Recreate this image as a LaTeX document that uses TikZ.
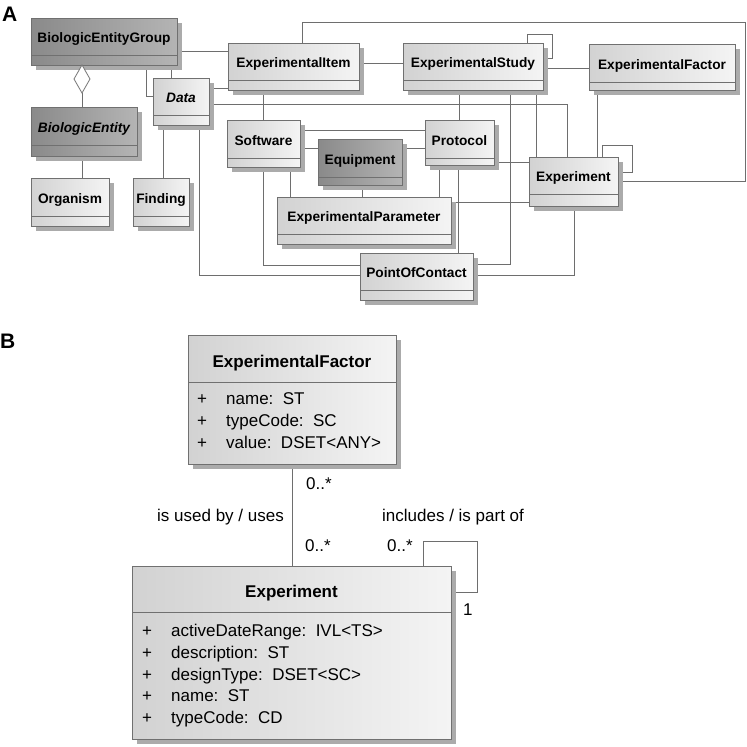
\documentclass[tikz,border=0pt]{standalone}
\usepackage{fontspec}
\setmainfont{Liberation Sans}
\usetikzlibrary{shapes.geometric,shadows}
\pgfdeclarelayer{background}
\pgfsetlayers{background,main}
\definecolor{bord}{HTML}{707070}
\definecolor{linec}{HTML}{6E6E6E}
\definecolor{shad}{HTML}{ABABAB}
\definecolor{lightL}{HTML}{D2D2D2}
\definecolor{lightR}{HTML}{F4F4F4}
\definecolor{darkL}{HTML}{8A8A8A}
\definecolor{darkR}{HTML}{B4B4B4}
\tikzset{
 conn/.style={draw=linec, line width=0.8pt},
 boxbase/.style={draw=bord, line width=0.8pt, inner sep=0pt, outer sep=0pt,
   general shadow={fill=shad, shadow xshift=5pt, shadow yshift=-5pt}},
 lightbox/.style={boxbase, left color=lightL, right color=lightR},
 darkbox/.style={boxbase, left color=darkL, right color=darkR},
 divbot/.style={path picture={\draw[bord, line width=0.8pt]
   ([yshift=#1pt]path picture bounding box.south west) --
   ([yshift=#1pt]path picture bounding box.south east);}},
 divtop/.style={path picture={\draw[bord, line width=0.8pt]
   ([yshift=-#1pt]path picture bounding box.north west) --
   ([yshift=-#1pt]path picture bounding box.north east);}},
 tA/.style={font=\fontsize{13.7}{16}\selectfont\bfseries, inner sep=0pt, anchor=base},
 tB/.style={font=\fontsize{17}{20}\selectfont\bfseries, inner sep=0pt, anchor=base},
 attr/.style={font=\fontsize{17}{20}\selectfont, inner sep=0pt, anchor=base west},
 plus/.style={font=\fontsize{17}{20}\selectfont, inner sep=0pt, anchor=base},
 lbl/.style={font=\fontsize{17}{20}\selectfont, inner sep=0pt, anchor=base west},
 panel/.style={font=\fontsize{21}{24}\selectfont\bfseries, inner sep=0pt, anchor=base west},
}
% name, x1, y1, x2, y2, bottom compartment height, style, text
\newcommand\clsA[8]{%
  \node[#7, anchor=north west, minimum width={#4pt-#2pt}, minimum height={#5pt-#3pt}, divbot=#6] (#1) at (#2,#3) {};
  \node[tA] (#1-t) at ({(#2+#4)/2},{#3+(#5-#3-#6)/2+6.4}) {#8};
}
\begin{document}
\begin{tikzpicture}[x=1pt,y=-1pt]
\useasboundingbox (0,0) rectangle (747,747);

% ---------- Panel A ----------
\node[panel] (labA) at (2,21) {A};
\clsA{beg}{31}{18}{177}{65}{10}{darkbox}{BiologicEntityGroup}
\clsA{be}{31}{107}{137}{156}{11}{darkbox}{\itshape BiologicEntity}
\clsA{org}{31}{178}{109}{226}{10}{lightbox}{Organism}
\clsA{find}{133}{178}{189}{226}{10}{lightbox}{Finding}
\clsA{data}{153}{78}{209}{125}{10}{lightbox}{\itshape Data}
\clsA{ei}{228}{43}{359}{90}{10}{lightbox}{ExperimentalItem}
\clsA{es}{403}{43}{543}{90}{10}{lightbox}{ExperimentalStudy}
\clsA{ef}{589}{44}{735}{90}{8}{lightbox}{ExperimentalFactor}
\clsA{sw}{227}{120}{300}{167}{9}{lightbox}{Software}
\clsA{eq}{318}{139}{402}{185}{8}{darkbox}{Equipment}
\clsA{prot}{425}{120}{494}{165}{7}{lightbox}{Protocol}
\clsA{ep}{277}{197}{451}{244}{10}{lightbox}{ExperimentalParameter}
\clsA{exp}{529}{157}{618}{206}{12}{lightbox}{Experiment}
\clsA{poc}{360}{253}{473}{300}{10}{lightbox}{PointOfContact}
\node[diamond, draw=bord, fill=white, line width=0.8pt, minimum width=16pt,
      minimum height=28pt, inner sep=0pt, outer sep=0pt] (agg) at (82,79) {};

\begin{pgfonlayer}{background}
\fill[white] (0,0) rectangle (747,747);
\draw[conn] (beg.east |- 0,51) -- (ei.west |- 0,51);
\draw[conn] (beg.south -| 146,0) |- (data.west |- 0,96);
\draw[conn] (beg.south -| 171,0) -- (data.north -| 171,0);
\draw[conn] (agg.south) -- (be.north -| agg.south);
\draw[conn] (be.south -| 82,0) -- (org.north -| 82,0);
\draw[conn] (data.east |- 0,88) -- (ei.west |- 0,88);
\draw[conn] (data.east |- 0,104) -| (exp.north -| 567,0);
\draw[conn] (data.south -| 163,0) -- (find.north -| 163,0);
\draw[conn] (data.south -| 199,0) |- (poc.west |- 0,275);
\draw[conn] (ei.south -| 263,0) -- (sw.north -| 263,0);
\draw[conn] (ei.north -| 302,0) |- (745,22) |- (exp.east |- 0,181);
\draw[conn] (ei.east |- 0,63) -- (es.west |- 0,63);
\draw[conn] (es.north -| 527,0) |- (552,34) |- (es.east |- 0,58);
\draw[conn] (es.east |- 0,68) -- (ef.west |- 0,68);
\draw[conn] (es.south -| 459,0) -- (prot.north -| 459,0);
\draw[conn] (es.south -| 510,0) |- (poc.east |- 0,264);
\draw[conn] (es.south -| 536,0) -- (exp.north -| 536,0);
\draw[conn] (ef.south -| 597,0) -- (exp.north -| 597,0);
\draw[conn] (sw.east |- 0,130) -- (prot.west |- 0,130);
\draw[conn] (sw.east |- 0,148) -- (eq.west |- 0,148);
\draw[conn] (eq.east |- 0,148) -- (prot.west |- 0,148);
\draw[conn] (eq.south -| 362,0) -- (ep.north -| 362,0);
\draw[conn] (sw.south -| 290,0) -- (ep.north -| 290,0);
\draw[conn] (sw.south -| 263,0) |- (poc.west |- 0,265);
\draw[conn] (prot.south -| 439,0) -- (ep.north -| 439,0);
\draw[conn] (prot.south -| 458,0) -- (poc.north -| 458,0);
\draw[conn] (prot.east |- 0,162) -- (exp.west |- 0,162);
\draw[conn] (ep.east |- 0,202) -- (exp.west |- 0,202);
\draw[conn] (exp.north -| 602,0) |- (632,145) |- (exp.east |- 0,172);
\draw[conn] (exp.south -| 574,0) |- (poc.east |- 0,275);
\draw[conn] (beg.south -| agg.north) -- (agg.north);
\end{pgfonlayer}

% ---------- Panel B ----------
\node[panel] (labB) at (0,348) {B};
\node[lightbox, divtop=47, anchor=north west, minimum width=208pt, minimum height=129pt] (efB) at (188,335) {};
\node[tB] (efB-t) at (292,367) {ExperimentalFactor};
\node[plus] (efB-p1) at (202,404) {+};
\node[plus] (efB-p2) at (202,426.5) {+};
\node[plus] (efB-p3) at (202,448.7) {+};
\node[attr] (efB-a1) at (226,404) {name:\ \ ST};
\node[attr] (efB-a2) at (226,426.5) {typeCode:\ \ SC};
\node[attr] (efB-a3) at (226,448.7) {value:\ \ DSET<ANY>};

\node[lightbox, divtop=46, anchor=north west, minimum width=319pt, minimum height=173pt] (expB) at (132,566) {};
\node[tB] (expB-t) at (291.5,597) {Experiment};
\node[plus] (expB-p1) at (147,636.6) {+};
\node[plus] (expB-p2) at (147,658) {+};
\node[plus] (expB-p3) at (147,680) {+};
\node[plus] (expB-p4) at (147,701.7) {+};
\node[plus] (expB-p5) at (147,723.3) {+};
\node[attr] (expB-a1) at (171,636.6) {activeDateRange:\ \ IVL<TS>};
\node[attr] (expB-a2) at (171,658) {description:\ \ ST};
\node[attr] (expB-a3) at (171,680) {designType:\ \ DSET<SC>};
\node[attr] (expB-a4) at (171,701.7) {name:\ \ ST};
\node[attr] (expB-a5) at (171,723.3) {typeCode:\ \ CD};

\begin{pgfonlayer}{background}
\draw[conn] (efB.south -| 292,0) -- (expB.north -| 292,0);
\draw[conn] (expB.north -| 423,0) |- (477,541) |- (expB.east |- 0,592);
\end{pgfonlayer}

\node[lbl] (m1) at (306,489) {0..*};
\node[lbl] (r1) at (157,521) {is used by / uses};
\node[lbl] (r2) at (382,521) {includes / is part of};
\node[lbl] (m2) at (305,551) {0..*};
\node[lbl] (m3) at (387,551) {0..*};
\node[lbl] (m4) at (463,615) {1};
\end{tikzpicture}
\end{document}
